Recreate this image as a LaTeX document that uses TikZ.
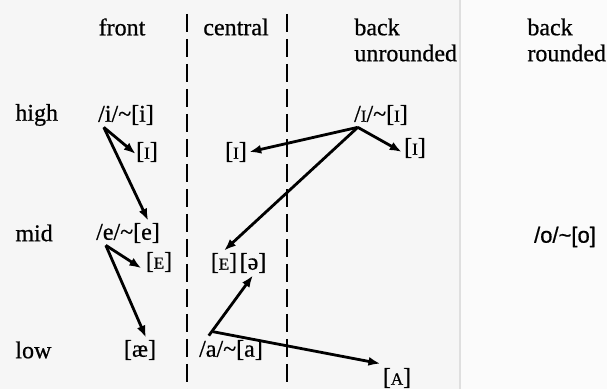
\documentclass[tikz,border=0pt]{standalone}
\usepackage{fontspec}
\setmainfont[FakeBold=0.7]{Liberation Serif}
\newfontfamily\sansf[FakeBold=0.7]{Liberation Sans}
\usetikzlibrary{arrows.meta}

\newcommand{\sCap}[1]{{\fontsize{8.5}{10}\selectfont #1}}

\begin{document}
\begin{tikzpicture}[x=0.5pt, y=-0.5pt,
    vowel/.style = {inner sep=1pt, font=\fontsize{12}{13}\selectfont},
    lab/.style = {inner sep=1pt, font=\fontsize{12}{13}\selectfont, align=left},
    arr/.style = {-{Latex[length=6pt,width=4.5pt]}, line width=1.4pt},
    divider/.style = {line width=1.2pt, dash pattern=on 9pt off 3.5pt}]
    \useasboundingbox (0,0) rectangle (607,389);
    \fill[gray!7] (0,0) rectangle (460,389);
    \fill[gray!3] (460,0) rectangle (607,389);
    \draw[gray!25, line width=0.6pt] (460,0) -- (460,389);

    % column heads
    \node[lab] (front) at (122,27) {front};
    \node[lab] (central) at (236,27) {central};
    \node[lab, anchor=west] (backun) at (352,40) {back\\unrounded};
    \node[lab, anchor=west] (backro) at (525,40) {back\\rounded};

    % row heads
    \node[lab, anchor=west] (high) at (13,115) {high};
    \node[lab, anchor=west] (mid) at (13,233) {mid};
    \node[lab, anchor=west] (low) at (13,350) {low};

    % dividers
    \coordinate (d1top) at (187,14);
    \coordinate (d1bot) at (187,389);
    \coordinate (d2top) at (287,14);
    \coordinate (d2bot) at (287,389);
    \draw[divider] (d1top) -- (d1bot);
    \draw[divider] (d2top) -- (d2bot);

    % vowels
    \node[vowel] (hi) at (126,115) {/i/\textasciitilde[i]};
    \node[vowel] (hI) at (147,152) {[\sCap{I}]};
    \node[vowel] (cI) at (236,152) {[\sCap{I}]};
    \node[vowel] (bI) at (381,115) {/\sCap{I}/\textasciitilde[\sCap{I}]};
    \node[vowel] (bItwo) at (415,148) {[\sCap{I}]};
    \node[vowel] (me) at (128,233) {/e/\textasciitilde[e]};
    \node[vowel] (fE) at (159,262) {[\sCap{E}]};
    \node[vowel] (cE) at (224,263) {[\sCap{E}]};
    \node[vowel] (cschwa) at (253,263) {[ə]};
    \node[vowel] (ae) at (140,350) {[æ]};
    \node[vowel] (la) at (231,350) {/a/\textasciitilde[a]};
    \node[vowel] (bA) at (397,378) {[\sCap{A}]};
    \node[vowel, font=\fontsize{11}{12}\selectfont] (mo) at (565,237) {\sansf /o/\textasciitilde[o]};

    % shifts
    \path[arr] ([xshift=4pt]hi.south west) edge ([xshift=1pt,yshift=-1pt]hI.west);
    \path[arr] ([xshift=4pt]hi.south west) edge ([xshift=-7pt]me.north east);
    \path[arr] ([xshift=3pt]bI.south west) edge (cI.east);
    \path[arr] ([xshift=3pt]bI.south west) edge ([yshift=-2pt]bItwo.west);
    \path[arr] ([xshift=3pt]bI.south west) edge (cE.north);
    \path[arr] ([xshift=6pt]me.south west) edge ([xshift=-1pt,yshift=3pt]fE.south west);
    \path[arr] ([xshift=6pt]me.south west) edge ([xshift=3pt]ae.north);
    \path[arr] ([xshift=6pt,yshift=1pt]la.north west) edge (cschwa.south);
    \path[arr] ([xshift=8pt,yshift=3pt]la.north west) edge ([yshift=1pt]bA.north west);
\end{tikzpicture}
\end{document}
